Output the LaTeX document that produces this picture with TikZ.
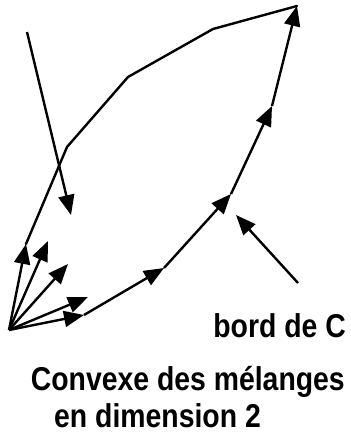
\documentclass[tikz,border=0pt]{standalone}
\usepackage{fontspec}
\setmainfont{Liberation Sans}[FakeStretch=0.86]
\usetikzlibrary{arrows.meta}
\tikzset{
  vecln/.style={-{Triangle[length=20pt,width=16pt]}, line width=2.4pt},
  bordln/.style={line width=2.4pt, line join=round, line cap=round},
  lbl/.style={font=\fontsize{33}{36}\selectfont\bfseries, inner sep=0pt},
}

\begin{document}
\begin{tikzpicture}[x=1pt,y=-1pt]
  \useasboundingbox (0,0) rectangle (350,438);
  % chaine du bas
  \coordinate (O) at (9,330);
  \coordinate (A) at (84,315);
  \coordinate (B) at (164,268);
  \coordinate (C) at (231,194);
  \coordinate (D) at (272,106);
  \coordinate (E) at (297,6);
  % chaine du haut
  \coordinate (F) at (26,244);
  \coordinate (G) at (67,147);
  \coordinate (H) at (128,77);
  \coordinate (K) at (213,29);
  % vecteurs seuls
  \coordinate (v2) at (88,297);
  \coordinate (v3) at (68,264);
  \coordinate (v4) at (48,241);
  \draw[vecln] (O) -- (A);
  \draw[vecln] (A) -- (B);
  \draw[vecln] (B) -- (C);
  \draw[vecln] (C) -- (D);
  \draw[vecln] (D) -- (E);
  \draw[vecln] (O) -- (F);
  \draw[vecln] (O) -- (v2);
  \draw[vecln] (O) -- (v3);
  \draw[vecln] (O) -- (v4);
  \draw[bordln] (F) -- (G) -- (H) -- (K) -- (E);
  % fleches d'annotation
  \coordinate (p1) at (27,32);
  \coordinate (p2) at (71,215);
  \coordinate (q1) at (298,283);
  \coordinate (q2) at (236,215);
  \draw[vecln] (p1) -- (p2);
  \draw[vecln] (q1) -- (q2);
  \node[lbl, anchor=base east] (bord) at (346,337) {bord de C};
  \node[lbl, anchor=base east] (titre) at (345,390) {Convexe des mélanges};
  \node[lbl, anchor=base west] (dim) at (54,427) {en dimension 2};
\end{tikzpicture}
\end{document}
